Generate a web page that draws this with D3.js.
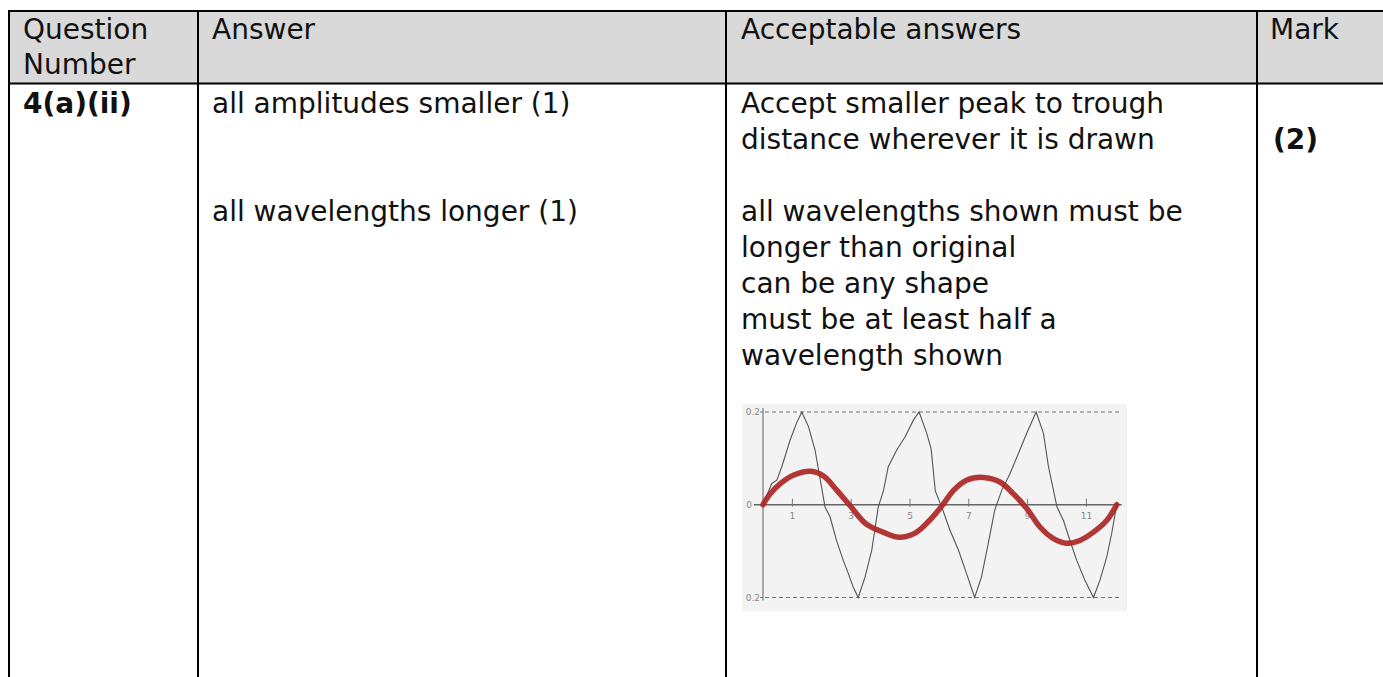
<!DOCTYPE html>
<html>
<head>
<meta charset="utf-8">
<script src="https://cdn.jsdelivr.net/npm/d3@7"></script>
<style>
  html, body { margin: 0; padding: 0; background: #fff; }
  svg { display: block; }
  .cell { font-family: "DejaVu Sans", Verdana, sans-serif; font-size: 28px; fill: #111; }
  .bold { font-weight: bold; }
  .tick { font-family: "DejaVu Sans", sans-serif; font-size: 9px; fill: #888; }
</style>
</head>
<body>
<svg id="chart" width="1383" height="677"></svg>
<script>
// ---- table text ----
const headerTexts = [["Question", "Number"], ["Answer"], ["Acceptable answers"], ["Mark"]];
const questionNumber = "4(a)(ii)";
const answerLines = ["all amplitudes smaller (1)", "all wavelengths longer (1)"];
const acceptableFirst = ["Accept smaller peak to trough", "distance wherever it is drawn"];
const acceptableSecond = ["all wavelengths shown must be", "longer than original", "can be any shape", "must be at least half a", "wavelength shown"];
const markText = "(2)";

// ---- chart data ----
const xTickValues = [1, 3, 5, 7, 9, 11];
const yTickValues = [0.2, 0, -0.2];
const yTickLabels = ["0.2", "0", "0.2"];
const originalX = [0, 0.3, 0.47, 0.64, 0.92, 1.14, 1.32, 1.55, 1.77, 1.95, 2.11, 2.28, 2.5, 2.73, 2.9, 3.07, 3.24, 3.47, 3.7, 3.92, 4.1, 4.26, 4.55, 4.84, 5.12, 5.31, 5.57, 5.72, 5.86, 6.08, 6.36, 6.65, 6.92, 7.2, 7.43, 7.66, 7.88, 8.12, 8.4, 8.69, 8.97, 9.29, 9.54, 9.71, 10.0, 10.22, 10.44, 10.67, 10.95, 11.24, 11.46, 11.69, 11.86, 12.03];
const originalY = [0, 0.046, 0.053, 0.082, 0.139, 0.176, 0.2, 0.168, 0.118, 0.053, -0.005, -0.026, -0.077, -0.12, -0.148, -0.178, -0.2, -0.156, -0.098, -0.005, 0.031, 0.082, 0.118, 0.147, 0.183, 0.2, 0.154, 0.12, 0.03, -0.005, -0.055, -0.098, -0.148, -0.2, -0.156, -0.084, -0.012, 0.031, 0.067, 0.111, 0.154, 0.2, 0.154, 0.082, -0.005, -0.034, -0.077, -0.12, -0.163, -0.2, -0.163, -0.113, -0.062, 0];
const newX = [0, 0.25, 0.6, 1.05, 1.62, 2.08, 2.5, 3.0, 3.5, 4.08, 4.64, 5.2, 5.66, 6.08, 6.48, 6.92, 7.49, 8.06, 8.51, 8.97, 9.42, 9.88, 10.33, 10.78, 11.24, 11.69, 12.03];
const newY = [0, 0.024, 0.046, 0.064, 0.072, 0.061, 0.032, -0.005, -0.041, -0.059, -0.07, -0.06, -0.034, -0.003, 0.031, 0.053, 0.059, 0.049, 0.024, -0.008, -0.048, -0.073, -0.083, -0.077, -0.059, -0.034, 0];

const svg = d3.select("#chart");

// ---- table ----
svg.append("rect").attr("x", 9).attr("y", 11).attr("width", 1383 - 9).attr("height", 72).attr("fill", "#d9d9d9");

const colX = [9, 198, 726, 1257];
const lines = svg.append("g").attr("stroke", "#000").attr("stroke-width", 2);
lines.append("line").attr("x1", 8).attr("x2", 1383).attr("y1", 11).attr("y2", 11);
lines.append("line").attr("x1", 8).attr("x2", 1383).attr("y1", 83.5).attr("y2", 83.5);
colX.forEach(x => lines.append("line").attr("x1", x).attr("x2", x).attr("y1", 10).attr("y2", 677));

const textX = [23, 212, 741, 1270];
const lh = 36;
headerTexts.forEach((arr, i) => {
  arr.forEach((t, j) => {
    svg.append("text").attr("class", "cell").attr("x", textX[i]).attr("y", 39 + j * 35).text(t);
  });
});
const bodyTop = 113;
svg.append("text").attr("class", "cell bold").attr("x", textX[0]).attr("y", bodyTop).text(questionNumber);
svg.append("text").attr("class", "cell").attr("x", textX[1]).attr("y", bodyTop).text(answerLines[0]);
svg.append("text").attr("class", "cell").attr("x", textX[1]).attr("y", bodyTop + 3 * lh).text(answerLines[1]);
acceptableFirst.forEach((t, j) => svg.append("text").attr("class", "cell").attr("x", textX[2]).attr("y", bodyTop + j * lh).text(t));
acceptableSecond.forEach((t, j) => svg.append("text").attr("class", "cell").attr("x", textX[2]).attr("y", bodyTop + (3 + j) * lh).text(t));
svg.append("text").attr("class", "cell bold").attr("x", 1273).attr("y", bodyTop + lh).text(markText);

// ---- embedded chart ----
const x = d3.scaleLinear().domain([0, 12]).range([763, 1115.8]);
const y = d3.scaleLinear().domain([-0.2, 0.2]).range([597.5, 412]);

const g = svg.append("g");
g.append("rect").attr("x", 742).attr("y", 404).attr("width", 385).attr("height", 207).attr("fill", "#f3f3f3");

// dashed limits
[0.2, -0.2].forEach(v => {
  g.append("line").attr("x1", x(0) + 2).attr("x2", x(12.2)).attr("y1", y(v)).attr("y2", y(v))
    .attr("stroke", "#777").attr("stroke-width", 1.2).attr("stroke-dasharray", "4,3");
});
// y axis
g.append("line").attr("x1", x(0)).attr("x2", x(0)).attr("y1", y(0.2) - 4).attr("y2", y(-0.2) + 3)
  .attr("stroke", "#777").attr("stroke-width", 1.2);
// zero axis
g.append("line").attr("x1", x(0) - 9).attr("x2", x(12.2)).attr("y1", y(0)).attr("y2", y(0))
  .attr("stroke", "#666").attr("stroke-width", 1.3);

// y ticks
yTickValues.forEach((v, i) => {
  g.append("line").attr("x1", x(0) - 3).attr("x2", x(0)).attr("y1", y(v)).attr("y2", y(v)).attr("stroke", "#777");
  g.append("text").attr("class", "tick").attr("x", v === 0 ? x(0) - 11 : x(0) - 3).attr("y", y(v) + 3)
    .attr("text-anchor", "end").text(yTickLabels[i]);
});
// x ticks
xTickValues.forEach(v => {
  g.append("line").attr("x1", x(v)).attr("x2", x(v)).attr("y1", y(0) - 6).attr("y2", y(0) + 2)
    .attr("stroke", "#777").attr("stroke-width", 1);
  g.append("text").attr("class", "tick").attr("x", x(v)).attr("y", y(0) + 14)
    .attr("text-anchor", "middle").text(v);
});

const origPts = originalX.map((d, i) => [d, originalY[i]]);
const newPts = newX.map((d, i) => [d, newY[i]]);

g.append("path").datum(origPts)
  .attr("d", d3.line().x(d => x(d[0])).y(d => y(d[1])).curve(d3.curveLinear))
  .attr("fill", "none").attr("stroke", "#555").attr("stroke-width", 1.1);

g.append("path").datum(newPts)
  .attr("d", d3.line().x(d => x(d[0])).y(d => y(d[1])).curve(d3.curveCatmullRom))
  .attr("fill", "none").attr("stroke", "#ad2626").attr("stroke-width", 5.5).attr("stroke-linecap", "round")
  .attr("opacity", 0.92);
</script>
</body>
</html>
